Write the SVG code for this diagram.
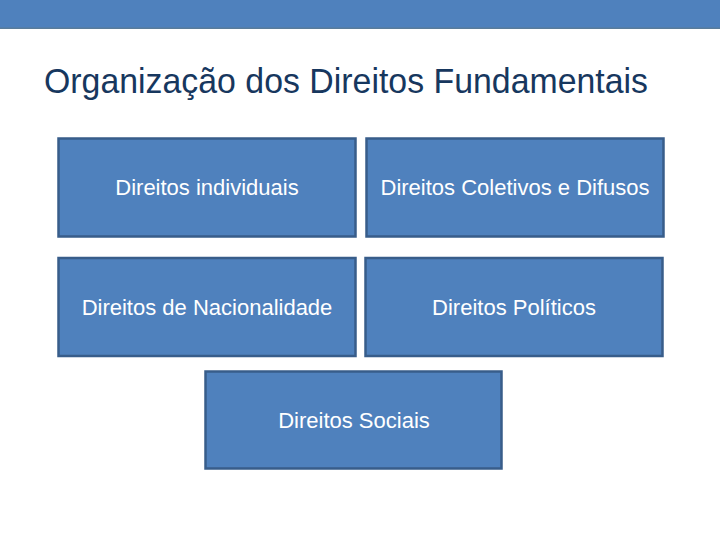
<svg xmlns="http://www.w3.org/2000/svg" width="720" height="540" viewBox="0 0 720 540">
<style>
.box{fill:#4F81BD;stroke:#385D8A;stroke-width:2.5}
.lbl{font-family:"Liberation Sans",Arial,sans-serif;font-size:22px;fill:#FFFFFF;text-anchor:middle}
.title{font-family:"Liberation Sans",Arial,sans-serif;font-size:35px;fill:#17375E}
</style>
<rect x="0" y="0" width="720" height="28" fill="#4F81BD"/>
<rect x="0" y="27.5" width="720" height="1.5" fill="#5A7C9A"/>
<text class="title" x="44" y="93" textLength="604" lengthAdjust="spacingAndGlyphs">Organização dos Direitos Fundamentais</text>
<g id="connectors"></g>
<g id="n1"><rect class="box" x="58.5" y="138.5" width="297" height="98"/><text class="lbl" x="207" y="195">Direitos individuais</text></g>
<g id="n2"><rect class="box" x="366.5" y="138.5" width="297" height="98"/><text class="lbl" x="515" y="195">Direitos Coletivos e Difusos</text></g>
<g id="n3"><rect class="box" x="58.5" y="258" width="297" height="98"/><text class="lbl" x="207" y="315">Direitos de Nacionalidade</text></g>
<g id="n4"><rect class="box" x="365.5" y="258" width="297" height="98"/><text class="lbl" x="514" y="315">Direitos Políticos</text></g>
<g id="n5"><rect class="box" x="205.5" y="371.5" width="296" height="97"/><text class="lbl" x="354" y="428">Direitos Sociais</text></g>
</svg>
